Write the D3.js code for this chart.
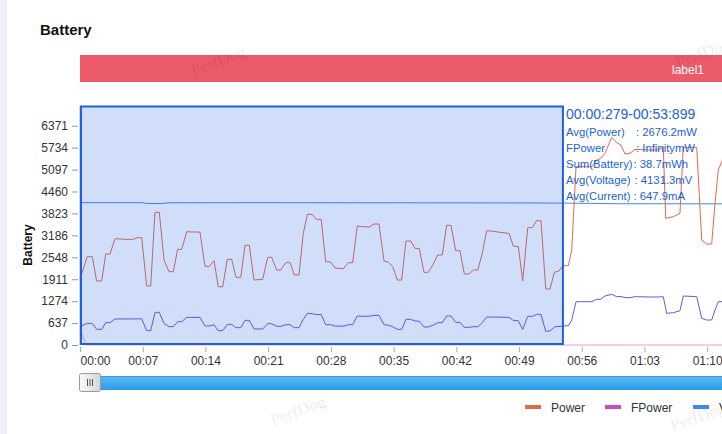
<!DOCTYPE html>
<html><head><meta charset="utf-8">
<script src="https://cdn.jsdelivr.net/npm/d3@7"></script>
<style>html,body{margin:0;padding:0;background:#fff;overflow:hidden}svg{display:block;font-family:"Liberation Sans",Arial,Helvetica,sans-serif}</style>
</head><body><svg id="c" width="722" height="434"></svg>
<script>
// ---------- data ----------
const xTickValues = [0, 7, 14, 21, 28, 35, 42, 49, 56, 63, 70, 77];
const yTickValues = [0, 637, 1274, 1911, 2548, 3186, 3823, 4460, 5097, 5734, 6371];

const powerT = [0,0.81,1.37,1.86,2.42,2.87,3.35,3.91,4.46,5.02,5.95,6.40,6.89,7.44,7.89,8.37,8.85,9.38,9.93,10.41,10.90,11.35,11.91,12.44,13.39,13.95,14.43,14.96,15.43,15.93,16.44,16.93,17.41,17.94,18.42,18.90,19.42,20.39,20.95,21.39,21.95,22.40,22.96,23.44,23.92,24.44,24.92,25.39,25.89,26.40,26.92,27.42,27.96,28.46,29.39,29.95,30.43,30.95,31.44,32.29,32.81,33.37,33.93,34.41,34.90,35.41,35.90,36.38,36.91,37.39,37.87,38.39,38.87,39.43,39.92,40.43,40.92,41.41,41.93,42.41,42.89,43.42,43.90,44.39,44.90,45.39,45.95,46.88,47.88,48.36,48.92,49.41,49.97,50.48,50.97,51.45,51.98,52.46,52.94,53.46,53.87,54.50,54.88,55.36,57.11,57.67,58.11,58.59,59.34,59.90,60.38,60.83,61.38,61.94,63.62,64.54,65.10,65.37,66.22,66.96,67.33,68.83,69.39,69.94,70.50,70.87,71.24,71.62,72.2,73.5];
const powerV = [1911,2566,2566,1859,1859,2644,2644,3089,3080,3070,3070,3118,3118,1714,1714,3855,3855,2469,2130,2130,2780,2780,3292,3285,3280,2286,2286,2450,1694,1694,2489,2489,1966,1966,2896,2896,1888,1908,2547,2547,2178,2178,2392,2392,2034,2034,3244,3797,3797,3652,3652,2416,2416,2237,2218,2392,2392,3457,3440,3428,3515,3515,2440,2411,2275,1888,1888,3021,3021,2809,2800,2111,2111,2353,2615,2615,3476,3476,2740,2740,2063,2063,2179,2179,2664,3321,3310,3273,3244,2876,2860,1859,3408,3408,3611,3611,1627,1627,2111,2150,2304,2304,2760,5180,5180,5375,5423,5568,6033,5877,5810,5549,5568,5684,5665,5665,5762,3680,3729,3825,5743,5743,3050,2934,2934,4117,5084,5326,5800,5800];

const currentT = [0,0.81,1.37,1.86,2.42,2.87,3.35,3.91,6.89,7.44,7.89,8.37,8.85,9.38,9.93,10.41,10.90,11.35,11.91,13.39,13.95,14.43,14.96,15.43,15.93,16.44,16.93,17.41,17.94,18.42,18.90,19.42,20.39,20.95,21.39,21.95,22.40,22.96,23.44,23.92,24.44,24.92,25.39,25.89,26.40,26.92,27.42,27.96,28.46,29.39,29.95,30.43,30.95,31.44,32.29,32.81,33.37,33.93,34.41,34.90,35.41,35.90,36.38,36.91,37.39,37.87,38.39,38.87,39.43,39.92,40.43,40.92,41.41,41.93,42.41,42.89,43.42,43.90,44.39,44.90,45.39,46.88,47.88,48.36,48.92,49.41,49.97,50.48,50.97,51.45,51.98,52.46,53.01,53.46,53.87,54.50,54.88,55.36,57.11,57.67,58.11,58.59,59.34,59.90,60.38,60.83,61.38,61.94,63.62,64.54,65.10,65.48,66.22,66.96,67.33,68.83,69.39,69.94,70.50,70.87,71.24,73.5];
const currentV = [532,629,629,455,455,648,648,755,760,416,416,949,949,629,532,532,677,677,803,803,552,552,590,416,416,600,600,503,503,716,716,465,465,619,619,542,542,590,590,503,503,745,919,910,885,885,590,590,552,545,590,590,842,835,835,861,861,590,575,532,455,455,745,745,697,690,523,523,581,648,648,842,842,658,658,513,513,532,532,648,813,810,800,716,706,455,832,832,890,890,397,410,532,540,552,561,726,1258,1258,1327,1327,1424,1472,1404,1410,1375,1375,1404,1395,1395,1404,919,938,996,1424,1404,774,726,726,1016,1258,1258];

const voltageT = [0, 7, 7.5, 9, 10, 20, 30, 40, 50, 55, 60, 70, 80];
const voltageV = [4135, 4135, 4110, 4110, 4132, 4135, 4132, 4130, 4128, 4120, 4105, 4102, 4100];

const fpowerT = [0, 0.7, 80];
const fpowerV = [450, 0, 0];

const seriesNames = ["Power", "FPower", "Voltage"];
const selStart = 0.279, selEnd = 53.899;
const infoTitle = "00:00:279-00:53:899";
const infoLabels = ["Avg(Power)", "FPower", "Sum(Battery)", "Avg(Voltage)", "Avg(Current)"];
const infoValues = [": 2676.2mW", ": InfinitymW", ": 38.7mWh", ": 4131.3mV", ": 647.9mA"];

// ---------- styles ----------
const colors = {Power: "#de6a4e", FPower: "#c84cb9", Voltage: "#3f88f0", Current: "#7352e2"};

const svg = d3.select("#c");
const defs = svg.append("defs");
const g1 = defs.append("linearGradient").attr("id","bar").attr("x1",0).attr("y1",0).attr("x2",0).attr("y2",1);
g1.append("stop").attr("offset","0%").attr("stop-color","#5cbaf5");
g1.append("stop").attr("offset","100%").attr("stop-color","#2b9ae8");
const g2 = defs.append("linearGradient").attr("id","hdl").attr("x1",0).attr("y1",0).attr("x2",1).attr("y2",0);
g2.append("stop").attr("offset","0%").attr("stop-color","#fafafa");
g2.append("stop").attr("offset","100%").attr("stop-color","#d6d6d6");

// left strip
svg.append("rect").attr("x",0).attr("y",0).attr("width",7).attr("height",434).attr("fill","#eef0f8");

// title
svg.append("text").attr("x",40).attr("y",35).attr("font-size",15).attr("font-weight","bold").attr("fill","#111").text("Battery");

// label bar
svg.append("rect").attr("x",80).attr("y",55).attr("width",660).attr("height",27).attr("fill","#ea5a68");
svg.append("text").attr("x",704).attr("y",73.5).attr("text-anchor","end").attr("font-size",12).attr("fill","#fff").text("label1");

// scales
const x = d3.scaleLinear().domain([0, 80]).range([80, 80 + 80 * 8.96]);
const y = d3.scaleLinear().domain([0, 6944]).range([345, 106]);

// y axis
const yAx = svg.append("g").attr("transform","translate(78,0)")
  .call(d3.axisLeft(y).tickValues(yTickValues).tickSize(6).tickPadding(4).tickFormat(d3.format("d")));
yAx.select(".domain").remove();
yAx.selectAll("line").attr("stroke","#9a9a9a");
yAx.selectAll("text").attr("font-size",12).attr("fill","#333").attr("font-family","Liberation Sans, Arial, sans-serif");
svg.append("line").attr("x1",80).attr("x2",80).attr("y1",106).attr("y2",345).attr("stroke","#aaa");

// y axis title
svg.append("text").attr("transform","translate(32,245) rotate(-90)").attr("text-anchor","middle")
  .attr("font-size",12).attr("font-weight","bold").attr("fill","#111").text("Battery");

// x axis
const fmt = t => String(Math.floor(t/60)).padStart(2,"0") + ":" + String(t%60).padStart(2,"0");
const xAx = svg.append("g").attr("transform","translate(0,347)")
  .call(d3.axisBottom(x).tickValues(xTickValues).tickSize(5).tickPadding(4.5).tickFormat(fmt));
xAx.select(".domain").remove();
xAx.selectAll("line").attr("stroke","#aaa");
xAx.selectAll("text").attr("font-size",12).attr("fill","#333").attr("font-family","Liberation Sans, Arial, sans-serif")
  .attr("text-anchor", d => d === 0 ? "start" : "middle");

// lines
const line = d3.line().x(d => x(d[0])).y(d => y(d[1]));
const zip = (a,b) => a.map((t,i) => [t, b[i]]);
const drawLine = (T, V, c, w) => svg.append("path").datum(zip(T,V)).attr("d", line)
  .attr("fill","none").attr("stroke", c).attr("stroke-width", w).attr("stroke-linejoin","round");
drawLine(voltageT, voltageV, colors.Voltage, 1);
drawLine(fpowerT, fpowerV, colors.FPower, 1).attr("stroke-opacity",0.55);
drawLine(currentT, currentV, colors.Current, 1);
drawLine(powerT, powerV, colors.Power, 1);

// selection overlay
const sx0 = x(0) + 1, sx1 = x(selEnd);
svg.append("rect").attr("x", sx0).attr("y",106.5).attr("width", sx1 - sx0).attr("height",237.5)
  .attr("fill","rgba(40,100,230,0.21)").attr("stroke","#1f60e0").attr("stroke-width",2);

// info text
const info = svg.append("g").attr("fill","#1b5fdc");
info.append("text").attr("x",566).attr("y",119).attr("font-size",14).text(infoTitle);
const colonX = [636, 636, 633.5, 634.5, 633.5];
infoLabels.forEach((l,i) => {
  info.append("text").attr("x",566).attr("y",136 + i*16).attr("font-size",11.3).text(l);
  info.append("text").attr("x",colonX[i]).attr("y",136 + i*16).attr("font-size",11.3).text(infoValues[i]);
});

// slider
svg.append("rect").attr("x",80).attr("y",376).attr("width",660).attr("height",14).attr("fill","url(#bar)");
svg.append("line").attr("x1",80).attr("x2",740).attr("y1",376.5).attr("y2",376.5).attr("stroke","#3d9ce0");
svg.append("rect").attr("x",79.5).attr("y",373.5).attr("width",21).attr("height",18).attr("rx",2)
  .attr("fill","url(#hdl)").attr("stroke","#9a9a9a");
[87.5, 90, 92.5].forEach(gx => svg.append("line").attr("x1",gx).attr("x2",gx).attr("y1",379).attr("y2",386).attr("stroke","#555").attr("stroke-width",1));

// legend
const legX = [525, 605, 693];
seriesNames.forEach((s,i) => {
  svg.append("rect").attr("x",legX[i]).attr("y",405).attr("width",16).attr("height",4).attr("fill",colors[s]);
  svg.append("text").attr("x",legX[i]+26).attr("y",412).attr("font-size",12).attr("fill","#333").text(s);
});

// watermarks
[[220,66],[705,58],[300,416],[700,422]].forEach(p => {
  svg.append("text").attr("transform",`translate(${p[0]},${p[1]}) rotate(-20)`).attr("text-anchor","middle")
    .attr("font-family","Liberation Serif, Times New Roman, serif").attr("font-size",17)
    .attr("fill","rgba(0,0,0,0.09)").text("PerfDog");
});
</script></body></html>
